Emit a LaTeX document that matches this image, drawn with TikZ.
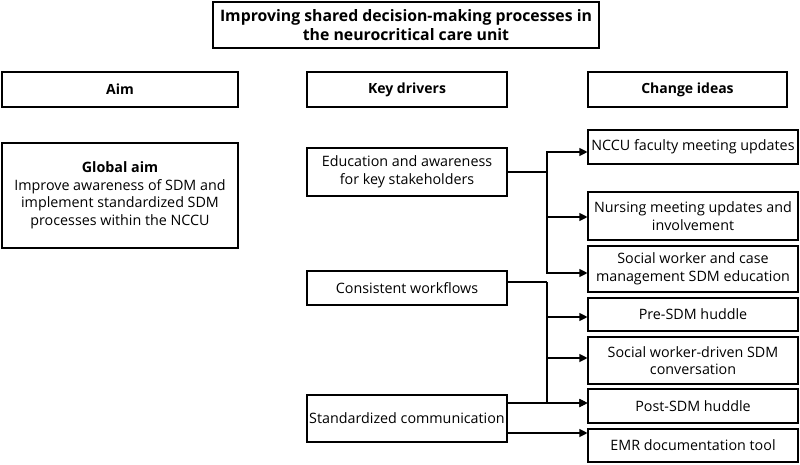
\documentclass[tikz,border=0pt]{standalone}
\usepackage{fontspec}
\setmainfont{Open Sans}
\usepackage{tikz}
\usetikzlibrary{arrows.meta,calc,positioning}
\tikzset{every picture/.style={
  >={Triangle[length=8pt,width=8pt]}    % Filled triangle arrows.
  }
}

\begin{document}
\begin{tikzpicture}[
    x=1pt,y=-1pt,
    line width=1.1pt,
    box/.style={                % Plain boxes of the driver diagram.
      rectangle,
      draw,
      align=center,
      inner sep=0pt,
      font=\fontsize{14.3}{17.5}\selectfont
    },
    hdr/.style={                % Column headings.
      box,
      minimum height=35pt,
      font=\fontsize{14}{17.5}\selectfont\bfseries
    },
    driver/.style={             % Key driver boxes.
      box,
      minimum width=200pt
    },
    idea/.style={               % Change idea boxes.
      box,
      minimum width=210pt
    }]

    \useasboundingbox (0,0) rectangle (800,465);

    % Title and column headings.
    \node[hdr,minimum width=386pt,minimum height=46pt,
      font=\fontsize{15.8}{18.5}\selectfont\bfseries] (title) at (406,25)
      {Improving shared decision-making processes in\\the neurocritical care unit};
    \node[hdr,minimum width=236pt] (aim)      at (120,89.5)   {Aim};
    \node[hdr,minimum width=200pt] (drivers)  at (407,89.5)   {Key drivers};
    \node[hdr,minimum width=199pt] (ideas)    at (687.5,89.5) {Change ideas};

    % Aim.
    \node[box,minimum width=236pt,minimum height=105pt] (global) at (120,195.5)
      {\textbf{Global aim}\\Improve awareness of SDM and\\implement standardized SDM\\processes within the NCCU};

    % Key drivers.
    \node[driver,minimum height=48pt] (educ) at (407,172)
      {Education and awareness\\for key stakeholders};
    \node[driver,minimum height=34pt] (flows) at (407,288) {Consistent workflows};
    \node[driver,minimum height=47pt] (comm) at (407,418.5) {Standardized communication};

    % Change ideas.
    \node[idea,minimum height=34pt] (faculty)  at (693,147)   {NCCU faculty meeting updates};
    \node[idea,minimum height=48pt] (nursing)  at (693,216)   {Nursing meeting updates and\\involvement};
    \node[idea,minimum height=46pt] (casemgmt) at (693,269)   {Social worker and case\\management SDM education};
    \node[idea,minimum height=33pt] (presdm)   at (693,314.5) {Pre-SDM huddle};
    \node[idea,minimum height=47pt] (swconv)   at (693,360.5) {Social worker-driven SDM\\conversation};
    \node[idea,minimum height=34pt] (postsdm)  at (693,406)   {Post-SDM huddle};
    \node[idea,minimum height=33pt] (emr)      at (693,445.5) {EMR documentation tool};

    % Branch points.
    \coordinate (jeduc)  at (547,172);
    \coordinate (jflows) at (547,282);

    % Connectors from education.
    \draw (educ.east) -- (jeduc);
    \draw[->] (jeduc) |- ([yshift=-5pt] faculty.west);
    \draw[->] (jeduc) |- ([yshift=-1pt] nursing.west);
    \draw[->] (jeduc) |- ([yshift=-4pt] casemgmt.west);

    % Connectors from workflows and communication.
    \draw ([yshift=6pt] flows.east) -- (jflows);
    \draw[->] (jflows) |- ([yshift=-2.5pt] presdm.west);
    \draw[->] (jflows) |- ([yshift=2.5pt] swconv.west);
    \draw[->] (jflows) |- ([yshift=3pt] postsdm.west);
    \draw[->] ([yshift=15.5pt] comm.east) -- ([yshift=15.5pt] comm.east -| postsdm.west);
    \draw[->] ([yshift=-14.5pt] comm.east) -- ([yshift=-14.5pt] comm.east -| emr.west);
\end{tikzpicture}
\end{document}
